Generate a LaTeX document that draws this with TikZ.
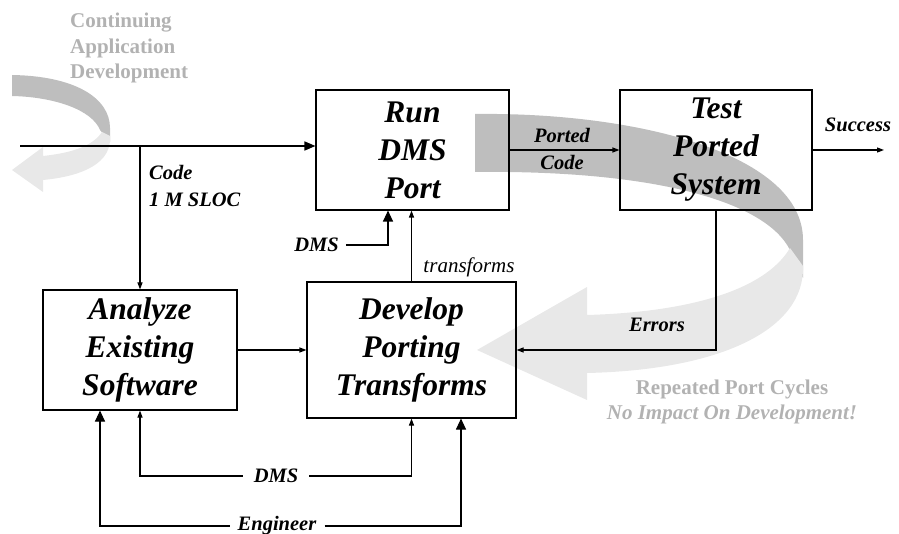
\documentclass[tikz,border=0pt]{standalone}
\usepackage{fontspec}
\setmainfont{Liberation Serif}
\newfontfamily\tms{Liberation Serif}
\usetikzlibrary{arrows.meta}
\definecolor{bandDark}{HTML}{BEBEBE}
\definecolor{bandLight}{HTML}{E8E8E8}
\definecolor{grayText}{HTML}{B2B2B2}
\tikzset{
  procbox/.style={draw, line width=1.1pt, align=center, inner sep=0pt,
    font=\tms\fontsize{31.5}{38}\selectfont\bfseries\itshape},
  lbl/.style={font=\tms\fontsize{20.5}{27}\selectfont\bfseries\itshape, inner sep=0pt},
  graylbl/.style={text=grayText, font=\tms\fontsize{21}{25.5}\selectfont\bfseries, inner sep=0pt},
  conn/.style={line width=1.1pt},
  arrS/.style={conn, -{Triangle[length=7pt,width=5pt]}},
  arrL/.style={conn, -{Triangle[length=11pt,width=10pt]}},
}
\begin{document}
\begin{tikzpicture}[x=1pt,y=-1pt]
\useasboundingbox (0,0) rectangle (899,534);

% big gray ribbon arrow (repeated port cycles)
\fill[bandDark] (475,114) .. controls (640,112) and (803,155) .. (803,240)
  -- (803,278) -- (790,250) .. controls (765,200) and (650,170) .. (475,172) -- cycle;
\fill[bandLight] (790,248) .. controls (765,290) and (690,312) .. (587,315)
  -- (587,287) -- (477,350) -- (587,400) -- (587,373)
  .. controls (720,370) and (805,330) .. (803,266) -- cycle;

% small gray ribbon arrow (continuing development)
\fill[bandDark] (12,75) .. controls (75,76) and (110,98) .. (110,128)
  -- (110,142) -- (100,130) .. controls (92,110) and (55,97) .. (12,96) -- cycle;
\fill[bandLight] (102,132) .. controls (92,147) and (70,153) .. (43,156)
  -- (43,147) -- (12,170) -- (43,192) -- (43,180)
  .. controls (85,176) and (112,162) .. (110,136) -- cycle;

% gray texts
\node[graylbl, anchor=west, align=left] (cad) at (70,48)
  {Continuing\\Application\\Development};
\node[graylbl, align=center] (rpc) at (732,402)
  {Repeated Port Cycles\\\textit{No Impact On Development!}};

% boxes
\node[procbox, minimum width=193pt, minimum height=120pt] (run) at (412.5,150) {Run\\DMS\\Port};
\node[procbox, minimum width=192pt, minimum height=120pt] (test) at (716,150) {Test\\Ported\\System};
\node[procbox, minimum width=194pt, minimum height=120pt] (ana) at (140,350) {Analyze\\Existing\\Software};
\node[procbox, minimum width=209pt, minimum height=136pt] (dev) at (411.5,350) {Develop\\Porting\\Transforms};

% labels
\node[lbl, anchor=west, align=left] (code) at (149,186) {Code\\1 M SLOC};
\node[lbl, align=center] (ported) at (562,148.5) {Ported\\Code};
\node[lbl] (success) at (858,125) {Success};
\node[lbl, inner xsep=7pt] (dms1) at (316.5,245) {DMS};
\node[font=\tms\fontsize{21}{25}\selectfont\itshape, inner sep=0pt] (trans) at (469,267) {transforms};
\node[lbl] (errors) at (657,325) {Errors};
\node[lbl, inner xsep=11pt] (dms2) at (276,476) {DMS};
\node[lbl, inner xsep=8pt] (eng) at (277,526) {Engineer};

% connectors
\coordinate (in) at (20,146);
\coordinate (br) at (140,146);
\coordinate (succ) at (884,150);
\draw[line width=1.6pt, -{Triangle[length=11pt,width=9pt]}] (in) -- (in -| run.west);
\draw[arrS] (br) -- (ana.north);
\draw[arrS] (run.east) -- (test.west);
\draw[arrS] (test.east) -- (succ);
\draw[arrL] (dms1.east) -| ([xshift=-24.5pt]run.south);
\draw[arrS] (dev.north) -- (dev.north |- run.south);
\draw[arrS] (test.south) |- (dev.east);
\draw[arrS] (ana.east) -- (ana.east -| dev.west);
\draw[arrS] (dms2.west) -| (ana.south);
\draw[arrS] (dms2.east) -| (dev.south);
\draw[arrL] (eng.west) -| ([xshift=-40pt]ana.south);
\draw[arrL] (eng.east) -| ([xshift=49.5pt]dev.south);
\end{tikzpicture}
\end{document}
